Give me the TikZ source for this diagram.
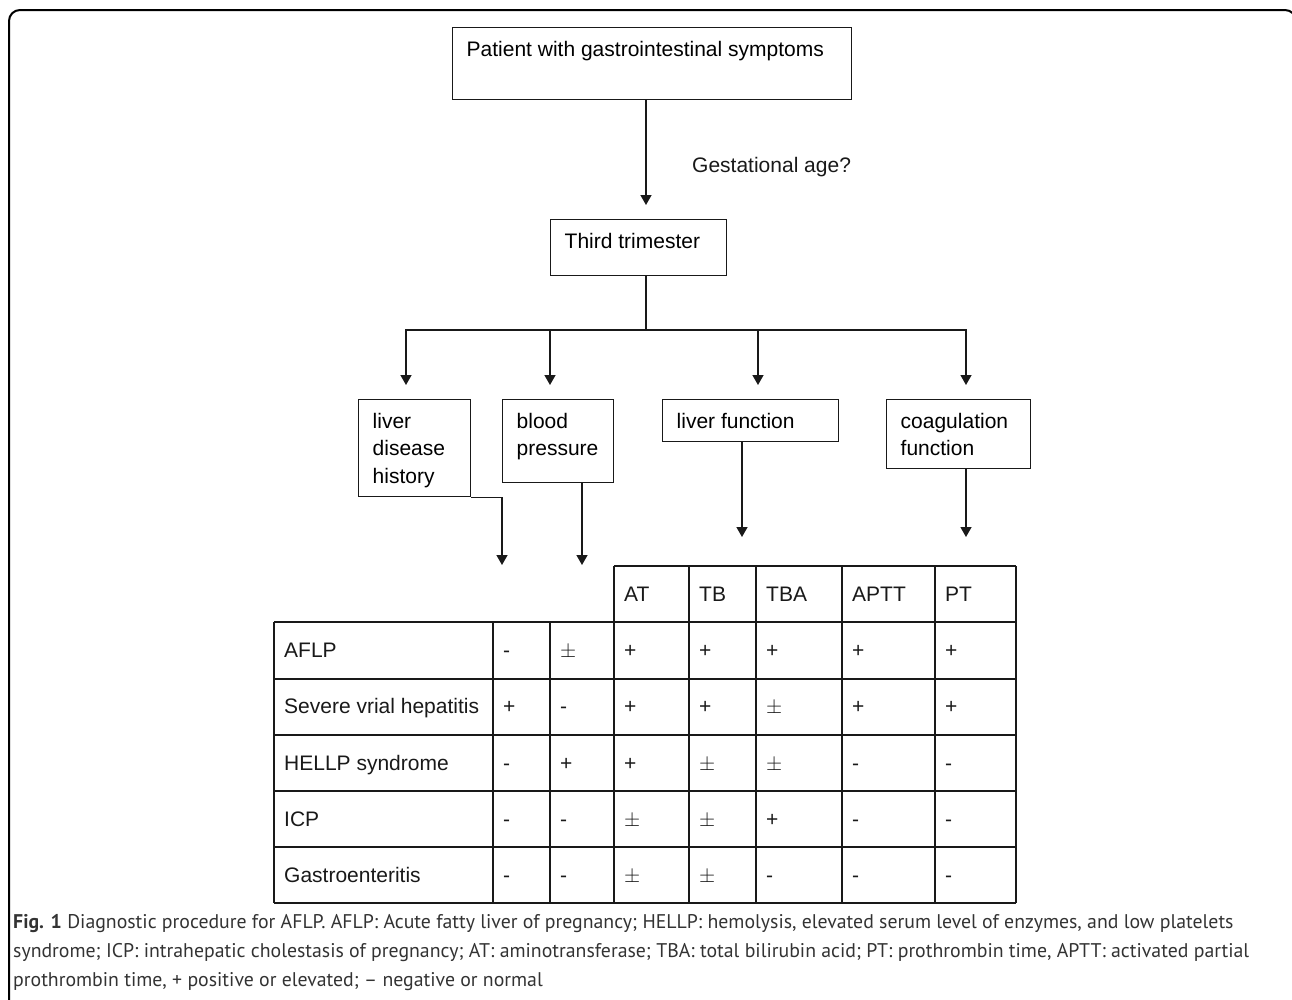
\documentclass[tikz,border=0pt]{standalone}
\usepackage{fontspec}
\setmainfont{Liberation Sans}
\newfontfamily\capfont{PT Sans}
\usetikzlibrary{arrows.meta}
\newcommand{\boxtext}[3]{\parbox[t][#2][t]{#1}{\raggedright\leftskip=14pt\rule{0pt}{28.5pt}#3}}

\begin{document}
\begin{tikzpicture}[x=1pt,y=-1pt,font=\fontsize{21}{27.5}\selectfont]
\tikzstyle{stage}=[draw=black!90,line width=1.4pt,inner sep=0pt,anchor=north west]
\tikzstyle{arr}=[draw=black!90,line width=1.4pt,-{Triangle[length=10pt,width=11pt]}]
\tikzstyle{cell}=[anchor=base west,inner sep=0pt,text=black!90]
\tikzstyle{grid}=[draw=black!90,line width=1.2pt]
\tikzstyle{caption}=[anchor=base west,inner sep=0pt,text=black!80,font=\capfont\fontsize{19.8}{29}\selectfont]
\useasboundingbox (0,0) rectangle (1292,999);
\clip (0,0) rectangle (1292,999);
\draw[line width=2pt,rounded corners=11pt] (9,10) rectangle (1296,1020);

\node[stage](patient) at (452,27) {\boxtext{399pt}{72pt}{Patient with gastrointestinal symptoms}};
\node[stage](trimester) at (550,219) {\boxtext{176pt}{56pt}{Third trimester}};
\node[cell](gest) at (692,172) {Gestational age?};
\node[stage](history) at (358,399) {\boxtext{112pt}{97pt}{liver\\disease\\history}};
\node[stage](pressure) at (502,399) {\boxtext{111pt}{83pt}{blood\\pressure}};
\node[stage](liverfn) at (662,399) {\boxtext{176pt}{42pt}{liver function}};
\node[stage](coag) at (886,399) {\boxtext{144pt}{69pt}{coagulation\\function}};

\coordinate (split) at (646,330);
\coordinate (t1) at (406,385);
\coordinate (t2) at (550,385);
\coordinate (t3) at (758,385);
\coordinate (t4) at (966,385);
\coordinate (hend) at (502,565);
\coordinate (pend) at (582,565);
\coordinate (lend) at (742,537);
\coordinate (cend) at (966,537);

\draw[arr](patient.south -| split) -- ([yshift=14pt]trimester.north -| split);
\draw[stage](trimester.south -| split) -- (split);
\foreach \t in {t1,t2,t3,t4}
  \draw[arr](split) -| (\t);
\draw[arr](history.south east) -| (hend);
\draw[arr](pressure.south -| pend) -- (pend);
\draw[arr](liverfn.south -| lend) -- (lend);
\draw[arr](coag.south -| cend) -- (cend);

\draw[grid](614,566) -- (1016,566);
\foreach \y in {622,679,735,791,847,903}
  \draw[grid](274,\y) -- (1016,\y);
\foreach \x in {274,493,550}
  \draw[grid](\x,622) -- (\x,903);
\foreach \x in {614,689,756,842,935,1016}
  \draw[grid](\x,566) -- (\x,903);

\foreach \t/\x [count=\i] in {AT/614,TB/689,TBA/756,APTT/842,PT/935}
  \node[cell](head\i) at (\x+10,601.5) {\t};
\foreach \name/\vals [count=\r] in {AFLP/{-,$\pm$,+,+,+,+,+},Severe vrial hepatitis/{+,-,+,+,$\pm$,+,+},HELLP syndrome/{-,+,+,$\pm$,$\pm$,-,-},ICP/{-,-,$\pm$,$\pm$,+,-,-},Gastroenteritis/{-,-,$\pm$,$\pm$,-,-,-}}{
  \node[cell](row\r) at (284,601.5+56.2*\r) {\name};
  \foreach \v [count=\c] in \vals {
    \pgfmathsetmacro\cx{{493,550,614,689,756,842,935}[\c-1]+10}
    \node[cell](row\r-\c) at (\cx,601.5+56.2*\r) {\v};
  }
}

\node[caption](cap1) at (13,928) {\textbf{Fig. 1} Diagnostic procedure for AFLP. AFLP: Acute fatty liver of pregnancy; HELLP: hemolysis, elevated serum level of enzymes, and low platelets};
\node[caption](cap2) at (13,957) {syndrome; ICP: intrahepatic cholestasis of pregnancy; AT: aminotransferase; TBA: total bilirubin acid; PT: prothrombin time, APTT: activated partial};
\node[caption](cap3) at (13,986) {prothrombin time, + positive or elevated; – negative or normal};
\end{tikzpicture}
\end{document}
